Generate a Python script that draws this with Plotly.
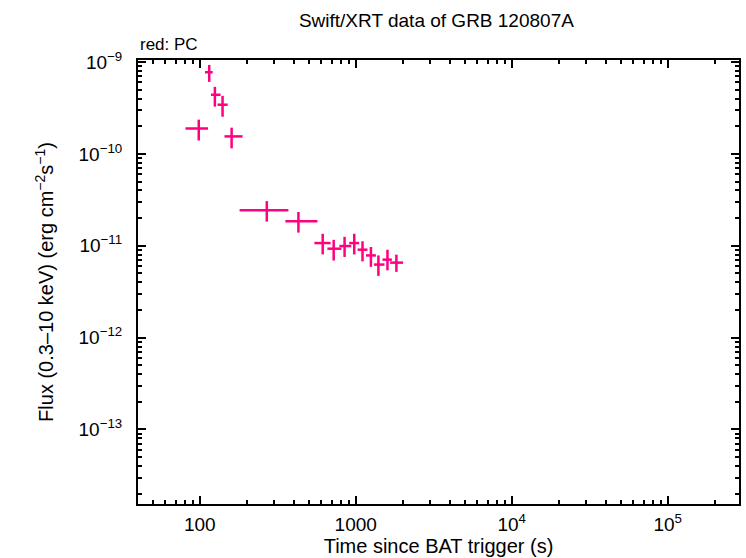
import plotly.graph_objects as go
import numpy as np

# Time since BAT trigger (s): centre, lower edge, upper edge
t_mid = [98.5, 115, 125, 140, 160, 269, 429, 614, 722, 848, 978, 1105, 1251, 1397, 1597, 1822]
t_lo = [81, 108, 118, 130, 144, 180, 354, 543, 658, 785, 908, 1027, 1163, 1307, 1484, 1661]
t_hi = [113, 121, 136, 151, 188, 370, 568, 690, 808, 936, 1052, 1189, 1347, 1528, 1704, 2011]

# Flux (0.3-10 keV) erg cm^-2 s^-1: value, upper, lower
flux = [1.89e-10, 7.74e-10, 4.40e-10, 3.43e-10, 1.55e-10, 2.43e-11, 1.85e-11, 1.07e-11,
        9.29e-12, 9.93e-12, 1.07e-11, 9.06e-12, 7.85e-12, 6.24e-12, 7.06e-12, 6.55e-12]
flux_hi = [2.36e-10, 9.3e-10, 5.37e-10, 4.28e-10, 1.93e-10, 3.06e-11, 2.33e-11, 1.35e-11,
           1.16e-11, 1.25e-11, 1.35e-11, 1.12e-11, 9.7e-12, 7.85e-12, 9.05e-12, 8.0e-12]
flux_lo = [1.40e-10, 6.08e-10, 3.27e-10, 2.54e-10, 1.15e-10, 1.83e-11, 1.39e-11, 8.05e-12,
           6.9e-12, 7.55e-12, 8.05e-12, 6.76e-12, 5.89e-12, 4.70e-12, 5.4e-12, 5.2e-12]

x_tickvals = [100, 1000, 1e4, 1e5]
x_ticktext = ["100", "1000", "10<sup>4</sup>", "10<sup>5</sup>"]
y_tickvals = [1e-13, 1e-12, 1e-11, 1e-10, 1e-9]
y_ticktext = ["10<sup>−13</sup>", "10<sup>−12</sup>", "10<sup>−11</sup>", "10<sup>−10</sup>", "10<sup>−9</sup>"]

COL = "#ff0080"

t = np.array(t_mid); f = np.array(flux)
fig = go.Figure()
fig.add_trace(go.Scatter(
    x=t_mid, y=flux, mode="markers",
    marker=dict(size=1, color=COL, opacity=0),
    error_x=dict(type="data", symmetric=False, array=np.array(t_hi) - t,
                 arrayminus=t - np.array(t_lo), color=COL, thickness=2.5, width=0),
    error_y=dict(type="data", symmetric=False, array=np.array(flux_hi) - f,
                 arrayminus=f - np.array(flux_lo), color=COL, thickness=2.5, width=0),
    showlegend=False,
))

x_minor = [m * 10 ** e for e in range(1, 6) for m in range(2, 10)]
y_minor = [m * 10.0 ** e for e in range(-14, -8) for m in range(2, 10)]

font = dict(family="Liberation Sans, Arial, sans-serif", size=16, color="black")

fig.update_layout(
    width=746, height=558,
    margin=dict(l=138, r=5, t=60, b=51),
    paper_bgcolor="white", plot_bgcolor="white",
    font=font,
    title=dict(text="Swift/XRT data of GRB 120807A", x=0.585, xanchor="center",
               y=1 - 20 / 558, yanchor="middle", font=dict(size=19)),
    annotations=[dict(text="red: PC", xref="paper", yref="paper", x=0, y=1 + 16 / 447,
                      xanchor="left", yanchor="middle", showarrow=False, font=dict(size=17))],
)
fig.update_xaxes(
    type="log", range=[1.604, 5.457],
    showline=True, linecolor="black", linewidth=2, mirror="allticks",
    ticks="inside", ticklen=8, tickwidth=2, tickcolor="black",
    tickvals=x_tickvals, ticktext=x_ticktext, showgrid=False, zeroline=False,
    minor=dict(tickvals=x_minor, ticks="inside", ticklen=4, tickwidth=2, tickcolor="black", showgrid=False),
    title=dict(text="Time since BAT trigger (s)", standoff=4, font=dict(size=20)),
    tickfont=dict(size=19), ticklabelstandoff=2,
)
fig.update_yaxes(
    type="log", range=[-13.811, -8.978],
    showline=True, linecolor="black", linewidth=2, mirror="allticks",
    ticks="inside", ticklen=8, tickwidth=2, tickcolor="black",
    tickvals=y_tickvals, ticktext=y_ticktext, showgrid=False, zeroline=False,
    minor=dict(tickvals=y_minor, ticks="inside", ticklen=4, tickwidth=2, tickcolor="black", showgrid=False),
    title=dict(text="Flux (0.3–10 keV) (erg cm<sup>−2</sup>s<sup>−1</sup>)", standoff=19, font=dict(size=20)),
    tickfont=dict(size=19), ticklabelstandoff=10,
)

fig.write_html("out.html")
